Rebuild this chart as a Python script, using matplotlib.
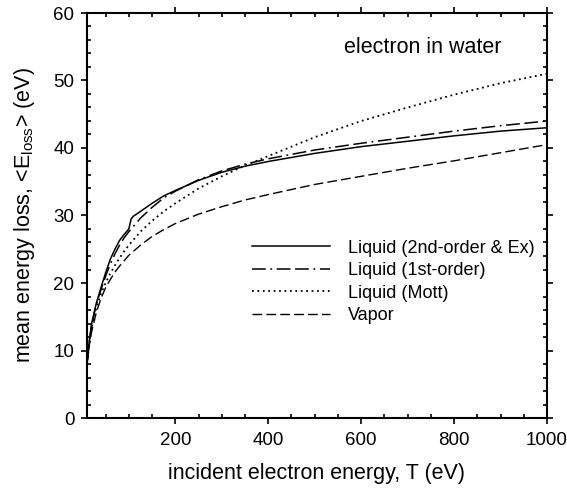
import matplotlib
matplotlib.use("Agg")
from matplotlib import pyplot as plt
from matplotlib.ticker import MultipleLocator
import numpy as np

plt.rcParams['font.family'] = ['Liberation Sans', 'DejaVu Sans']

# incident energy T (eV)
T = [10, 15, 20, 30, 40, 50, 60, 70, 80, 90, 100, 105, 110, 125, 150, 175, 200,
     250, 300, 350, 400, 500, 600, 700, 800, 900, 1000]

liquid_2nd = [8.0, 11.5, 14.0, 17.0, 19.3, 21.5, 23.5, 25.0, 26.3, 27.2, 28.0, 29.5, 29.9,
              30.6, 31.8, 32.9, 33.7, 35.2, 36.4, 37.3, 38.0, 39.2, 40.2, 41.0, 41.8, 42.5, 43.0]
liquid_1st = [8.0, 11.3, 13.8, 16.8, 19.0, 21.0, 22.8, 24.3, 25.6, 26.7, 27.6, 28.0, 28.4,
              29.6, 31.2, 32.6, 33.6, 35.3, 36.6, 37.6, 38.4, 39.7, 40.7, 41.6, 42.5, 43.3, 44.0]
liquid_mott = [8.0, 11.0, 13.3, 16.3, 18.4, 20.0, 21.4, 22.6, 23.7, 24.7, 25.6, 26.0, 26.4,
               27.6, 29.2, 30.6, 31.8, 34.0, 35.8, 37.4, 38.8, 41.6, 44.0, 46.0, 47.9, 49.6, 51.0]
vapor = [8.0, 10.8, 12.8, 15.6, 17.7, 19.3, 20.5, 21.6, 22.5, 23.3, 24.1, 24.4, 24.7,
         25.6, 26.9, 27.9, 28.8, 30.2, 31.3, 32.3, 33.1, 34.6, 35.8, 37.0, 38.1, 39.3, 40.5]

labels = ['Liquid (2nd-order & Ex)', 'Liquid (1st-order)', 'Liquid (Mott)', 'Vapor']

fig = plt.figure(figsize=(5.67, 4.98), dpi=100)
ax = fig.add_axes([87/567, 1 - 418/498, 460/567, 405/498])

ax.plot(T, liquid_2nd, color='black', lw=1.1, ls='-', label=labels[0])
ax.plot(T, liquid_1st, color='black', lw=1.1, ls=(0, (9, 3, 1.2, 3, 9, 3)), label=labels[1])
ax.plot(T, liquid_mott, color='black', lw=1.3, ls=(0, (1, 2)), label=labels[2])
ax.plot(T, vapor, color='black', lw=1.0, ls=(0, (7, 3)), label=labels[3])

ax.set_xlim(10, 1000)
ax.set_ylim(0, 60)
ax.xaxis.set_major_locator(MultipleLocator(200))
ax.xaxis.set_minor_locator(MultipleLocator(50))
ax.yaxis.set_major_locator(MultipleLocator(10))
ax.yaxis.set_minor_locator(MultipleLocator(2))
ax.set_xticks([200, 400, 600, 800, 1000])

for sp in ax.spines.values():
    sp.set_linewidth(1.5)

ax.tick_params(which='both', top=True, right=True, width=1.2)
ax.tick_params(which='major', direction='out', length=4, labelsize=13.5)
ax.tick_params(which='minor', direction='in', length=3)
ax.tick_params(axis='x', which='major', pad=6)
ax.tick_params(axis='y', which='major', pad=5)

ax.set_xlabel('incident electron energy, T (eV)', fontsize=15.5, labelpad=10)
ax.set_ylabel(r'mean energy loss, <E$_{\mathregular{loss}}$> (eV)', fontsize=15.5, labelpad=12)

ax.text(0.73, 0.915, 'electron in water', transform=ax.transAxes,
        fontsize=15.5, ha='center', va='center')

ax.legend(loc='upper left', bbox_to_anchor=(0.359, 0.44), frameon=False,
          fontsize=13, handlelength=4.3, handletextpad=1.0, labelspacing=0.3,
          borderpad=0, borderaxespad=0)

fig.savefig('out.png', dpi=100)
